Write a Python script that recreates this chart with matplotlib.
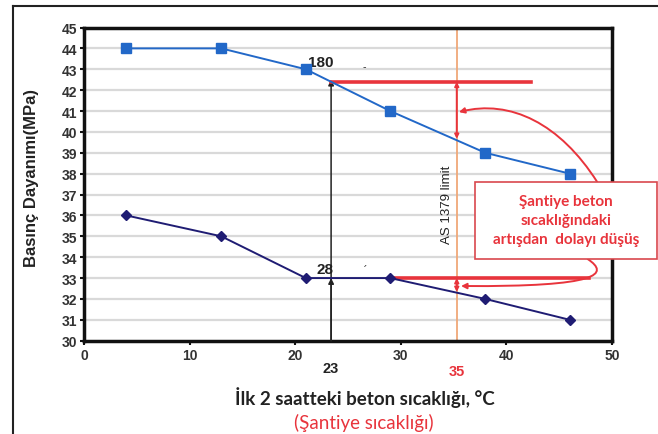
import matplotlib
matplotlib.use("Agg")
import matplotlib.pyplot as plt
from matplotlib.patches import FancyArrowPatch, Rectangle
from matplotlib.path import Path
from matplotlib.lines import Line2D
import numpy as np

# data
temps = [4, 13, 21, 29, 38, 46]
strength_180 = [44, 44, 43, 41, 39, 38]
strength_28 = [36, 35, 33, 33, 32, 31]
yticks = list(range(30, 46))
xticks = [0, 10, 20, 30, 40, 50]
site_temp = 23
limit_temp = 35

blue = "#2268C8"
navy = "#1F1C73"
red = "#E8343C"
orange = "#F0A878"

fig = plt.figure(figsize=(6.58, 4.35), dpi=100)
ax = fig.add_axes([84/658, 1-341.7/435, (612-84)/658, (341.7-28.5)/435])

ax.set_xlim(0, 50)
ax.set_ylim(30, 45)
ax.set_yticks(yticks)
ax.set_xticks(xticks)
for yv in yticks[1:-1]:
    ax.axhline(yv, color="#d9d9d9", lw=1.6, zorder=0)
for s in ax.spines.values():
    s.set_linewidth(2.5)
    s.set_color("#111111")
ax.tick_params(length=3, width=1.5, colors="#111111", labelcolor="#333333", pad=2)
for lab in ax.get_xticklabels() + ax.get_yticklabels():
    lab.set_fontfamily("Liberation Sans")
    lab.set_fontweight("bold")
    lab.set_fontsize(10)

ax.plot(temps, strength_180, color=blue, lw=1.4, marker="s", ms=6.5, zorder=5)
ax.plot(temps, strength_28, color=navy, lw=1.4, marker="D", ms=5.5, zorder=5)

# interpolated crossing values
y180_23 = np.interp(site_temp, temps, strength_180)
y180_35 = np.interp(limit_temp, temps, strength_180)
y28_23 = np.interp(site_temp, temps, strength_28)
y28_35 = np.interp(limit_temp, temps, strength_28)

# AS 1379 limit line
ax.axvline(limit_temp + 0.3, color=orange, lw=1.3, zorder=2)
ax.text(limit_temp - 0.6, 36.55, "AS 1379 limit", rotation=90, ha="center", va="center",
        fontsize=9.5, color="#222222", family="Liberation Sans")

# black arrows at site temperature
for ytop in (y180_23, y28_23):
    ax.annotate("", xy=(site_temp + 0.4, ytop), xytext=(site_temp + 0.4, 30),
                arrowprops=dict(arrowstyle="-|>", color="#222222", lw=1.1,
                                mutation_scale=8, shrinkA=0, shrinkB=0), zorder=3)

# red horizontal lines
ax.plot([site_temp + 0.4, 42.3], [y180_23 - 0.1, y180_23 - 0.1], color=red, lw=2.6, zorder=4)
ax.plot([29, 47.8], [33, 33], color=red, lw=2.6, zorder=4)

# red vertical double arrows
ax.annotate("", xy=(limit_temp + 0.3, y180_23 - 0.1), xytext=(limit_temp + 0.3, y180_35),
            arrowprops=dict(arrowstyle="<|-|>", color=red, lw=1.4, mutation_scale=6,
                            shrinkA=0, shrinkB=0), zorder=4)
ax.annotate("", xy=(limit_temp + 0.3, 33), xytext=(limit_temp + 0.3, y28_35),
            arrowprops=dict(arrowstyle="<|-|>", color=red, lw=1.4, mutation_scale=6,
                            shrinkA=0, shrinkB=0), zorder=4)

# curved red arrows from box (cubic Bezier paths)
up_path = Path([(48.6, 37.6), (45.1, 40.38), (40.4, 41.58), (35.5, 40.95)],
               [Path.MOVETO, Path.CURVE4, Path.CURVE4, Path.CURVE4])
low_path = Path([(47.7, 33.91), (49.8, 33.2), (48.9, 32.57), (35.7, 32.62)],
                [Path.MOVETO, Path.CURVE4, Path.CURVE4, Path.CURVE4])
for p in (up_path, low_path):
    a = FancyArrowPatch(path=p, arrowstyle="-|>", color=red, lw=1.4, mutation_scale=8,
                        transform=ax.transData, zorder=6, clip_on=False)
    ax.add_patch(a)

# labels 180 / 28
ax.text(21.2, 43.0, "180", fontsize=11, fontweight="bold", family="Liberation Sans",
        color="#222222", ha="left", va="bottom")
ax.text(22.0, 33.1, "28", fontsize=11, fontweight="bold", family="Liberation Sans",
        color="#222222", ha="left", va="bottom")
# small stray marks in the original
ax.text(26.5, 43.15, "-", fontsize=7, color="#333333", ha="center", va="center")
ax.text(26.6, 33.4, "´", fontsize=8, color="#333333", ha="center", va="center")

# extra x labels
ax.text(site_temp + 0.4, -0.065, "23", transform=ax.get_xaxis_transform(), ha="center", va="top",
        fontsize=10.5, fontweight="bold", family="Liberation Sans", color="#222222")
ax.text(limit_temp + 0.3, -0.075, "35", transform=ax.get_xaxis_transform(), ha="center", va="top",
        fontsize=10.5, fontweight="bold", family="Liberation Sans", color=red)

# axis labels
fig.text(32/658, 1-178/435, "Basınç Dayanımı(MPa)", rotation=90, ha="center", va="center",
         fontsize=12, fontweight="bold", family="Liberation Sans", color="#222222")
fig.text(365/658, 1-398/435, "İlk 2 saatteki beton sıcaklığı, °C", ha="center", va="center",
         fontsize=13.5, fontweight="bold", family="Lato", color="#222222")
fig.text(364/658, 1-423/435, "(Şantiye sıcaklığı)", ha="center", va="center",
         fontsize=13.5, family="Lato", color=red)

# text box
fig.patches.append(Rectangle((475/658, 1-260/435), (657-475)/658, (260-183)/435,
                             transform=fig.transFigure, facecolor="white",
                             edgecolor="#D9484E", lw=1.2, zorder=10))
fig.text(566/658, 1-221/435, "Şantiye beton\nsıcaklığındaki\nartışdan  dolayı düşüş",
         ha="center", va="center", fontsize=11, fontweight="bold", family="Lato",
         color=red, linespacing=1.45, zorder=11)

# outer frame
fig.add_artist(Line2D([13/658, 1], [1-7/435, 1-7/435], transform=fig.transFigure,
                      color="#222222", lw=1.5))
fig.add_artist(Line2D([13/658, 13/658], [0, 1-7/435], transform=fig.transFigure,
                      color="#222222", lw=1.5))

fig.savefig("out.png", dpi=100)
